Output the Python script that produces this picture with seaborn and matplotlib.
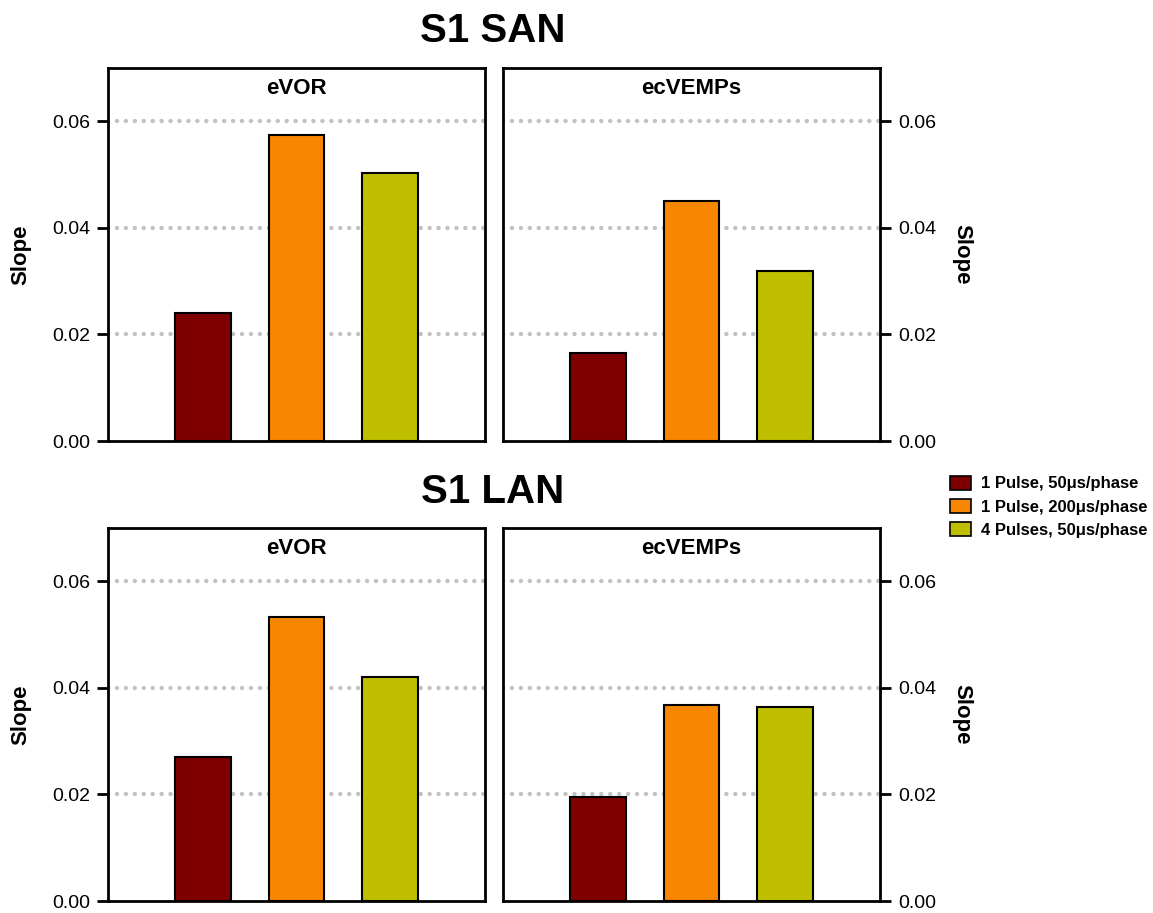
import numpy as np
import pandas as pd
import matplotlib.pyplot as plt
import seaborn as sns
from matplotlib.patches import Patch

# ── Data ───────────────────────────────────────────────
CONDITIONS = ["1 Pulse, 50μs/phase", "1 Pulse, 200μs/phase", "4 Pulses, 50μs/phase"]
COLORS = ["#7F0000", "#F88600", "#BFBF00"]
GROUPS = ["S1 SAN", "S1 LAN"]
MEASURES = ["eVOR", "ecVEMPs"]

san_evor = [0.0240, 0.0574, 0.0503]
san_ecvemps = [0.0165, 0.0450, 0.0319]
lan_evor = [0.0270, 0.0533, 0.0420]
lan_ecvemps = [0.0195, 0.0368, 0.0364]

values = {
    ("S1 SAN", "eVOR"): san_evor,
    ("S1 SAN", "ecVEMPs"): san_ecvemps,
    ("S1 LAN", "eVOR"): lan_evor,
    ("S1 LAN", "ecVEMPs"): lan_ecvemps,
}

# ── Style ──────────────────────────────────────────────
sns.set_style("white")
plt.rcParams.update({
    "font.family": ["Liberation Sans", "DejaVu Sans"],
    "axes.linewidth": 2.0,
    "text.color": "black",
    "axes.labelcolor": "black",
    "xtick.color": "black",
    "ytick.color": "black",
})

W, H = 1153, 913
fig = plt.figure(figsize=(W / 100, H / 100), dpi=100)

def fx(px):
    return px / W

def fy(px):
    return 1 - px / H

panel_x = [108, 503]
panel_w = 377
panel_top = [68, 528]
panel_h = 373
title_y = [31, 492]

for r, group in enumerate(GROUPS):
    fig.text(fx(493), fy(title_y[r]), group, ha="center", va="center",
             fontsize=29, fontweight="bold")
    for c, measure in enumerate(MEASURES):
        ax = fig.add_axes([fx(panel_x[c]), fy(panel_top[r] + panel_h),
                           fx(panel_w), panel_h / H])
        df = pd.DataFrame({"condition": CONDITIONS,
                           "slope": values[(group, measure)]})
        sns.barplot(data=df, x="condition", y="slope", hue="condition",
                    palette=COLORS, saturation=1, width=0.6,
                    edgecolor="black", linewidth=1.5, ax=ax, legend=False,
                    zorder=3)
        ax.set_xlim(-1.02, 3.02)
        ax.set_ylim(0, 0.07)
        ax.set_yticks([0, 0.02, 0.04, 0.06])
        ax.set_yticklabels(["0.00", "0.02", "0.04", "0.06"])
        for yv in [0.02, 0.04, 0.06]:
            ax.axhline(yv, color="#c2c2c2", linestyle=(0, (0.01, 2.0)),
                       linewidth=3.2, dash_capstyle="round", zorder=1)
        ax.set_xticks([])
        ax.set_xlabel("")
        ax.tick_params(axis="y", length=8, width=2, labelsize=14,
                       direction="out", pad=5)
        if c == 0:
            ax.yaxis.tick_left()
            ax.set_ylabel("Slope", fontsize=16, fontweight="bold", labelpad=15)
        else:
            ax.yaxis.tick_right()
            ax.yaxis.set_label_position("right")
            ax.set_ylabel("Slope", fontsize=16, fontweight="bold",
                          rotation=270, labelpad=26)
        ax.text(0.5, 0.945, measure, transform=ax.transAxes, ha="center",
                va="center", fontsize=16, fontweight="bold")
        for s in ax.spines.values():
            s.set_visible(True)
            s.set_linewidth(2)
            s.set_color("black")

handles = [Patch(facecolor=col, edgecolor="black", linewidth=1.2)
           for col in COLORS]
fig.legend(handles, CONDITIONS, loc="upper left",
           bbox_to_anchor=(fx(938), fy(464)), frameon=False,
           prop={"weight": "bold", "size": 12}, handlelength=1.3,
           handleheight=0.9, handletextpad=0.6, labelspacing=0.45,
           borderpad=0.2)

fig.savefig("out.png", dpi=100)
